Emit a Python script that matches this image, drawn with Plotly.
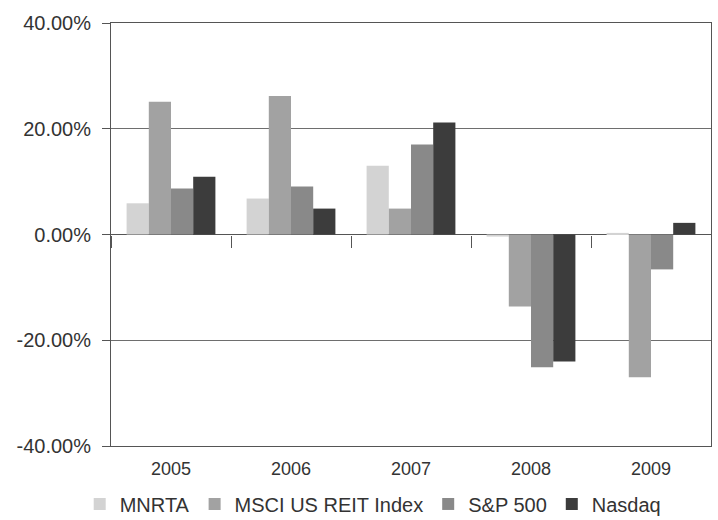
import plotly.graph_objects as go

# Annual returns (%) by year
years = ["2005", "2006", "2007", "2008", "2009"]
mnrta = [5.9, 6.8, 13.0, -0.4, 0.3]
msci_reit = [25.1, 26.2, 4.9, -13.6, -27.0]
sp500 = [8.7, 9.1, 17.0, -25.1, -6.6]
nasdaq = [10.9, 4.9, 21.2, -24.0, 2.2]

series_names = ["MNRTA", "MSCI US REIT Index", "S&P 500", "Nasdaq"]
series_values = [mnrta, msci_reit, sp500, nasdaq]
series_colors = ["#d3d3d3", "#a2a2a2", "#898989", "#3c3c3c"]

y_ticks = [-40, -20, 0, 20, 40]
y_tick_labels = ["-40.00%", "-20.00%", "0.00%", "20.00%", "40.00%"]

FONT = "Liberation Sans, Arial, sans-serif"
TEXT = "#333333"
LINE = "#555555"

fig = go.Figure()
for name, vals, col in zip(series_names, series_values, series_colors):
    fig.add_trace(go.Bar(
        x=years, y=vals, name=name,
        marker=dict(color=col, line=dict(width=0)),
    ))

# invisible trace carrying the tick-only axis that sits on the zero line
fig.add_trace(go.Scatter(x=years, y=[0] * len(years), xaxis="x2", mode="markers",
                         marker=dict(opacity=0), showlegend=False, hoverinfo="skip"))

fig.update_layout(
    width=718, height=520,
    margin=dict(l=111, r=7, t=23, b=74, autoexpand=False),
    paper_bgcolor="white", plot_bgcolor="white",
    barmode="group", bargap=0.26, bargroupgap=0,
    font=dict(family=FONT, color=TEXT),
    xaxis=dict(
        type="category", range=[-0.5, 4.5], automargin=False,
        showgrid=False, ticks="", showline=True, mirror=True,
        linecolor=LINE, linewidth=1, ticklabelstandoff=6,
        tickfont=dict(size=18, color=TEXT),
    ),
    xaxis2=dict(
        type="category", range=[-0.5, 4.5], overlaying="x",
        anchor="free", position=0.5, side="bottom", automargin=False,
        tickson="boundaries", ticks="outside", ticklen=12, tickcolor=LINE,
        showticklabels=False, showgrid=False, showline=False, zeroline=False,
    ),
    yaxis=dict(
        range=[-40, 40], tickvals=y_ticks, ticktext=y_tick_labels, automargin=False,
        showgrid=True, gridcolor="#6e6e6e", gridwidth=1,
        zeroline=True, zerolinecolor=LINE, zerolinewidth=1,
        showline=True, mirror=True, linecolor=LINE, linewidth=1,
        ticks="outside", ticklen=8, tickcolor=LINE, ticklabelstandoff=7,
        tickfont=dict(size=20, color=TEXT),
    ),
    legend=dict(
        orientation="h", x=0.437, xanchor="center", y=-0.137, yanchor="middle",
        font=dict(size=20, color=TEXT), itemwidth=30,
    ),
)

fig.write_html("out.html")
